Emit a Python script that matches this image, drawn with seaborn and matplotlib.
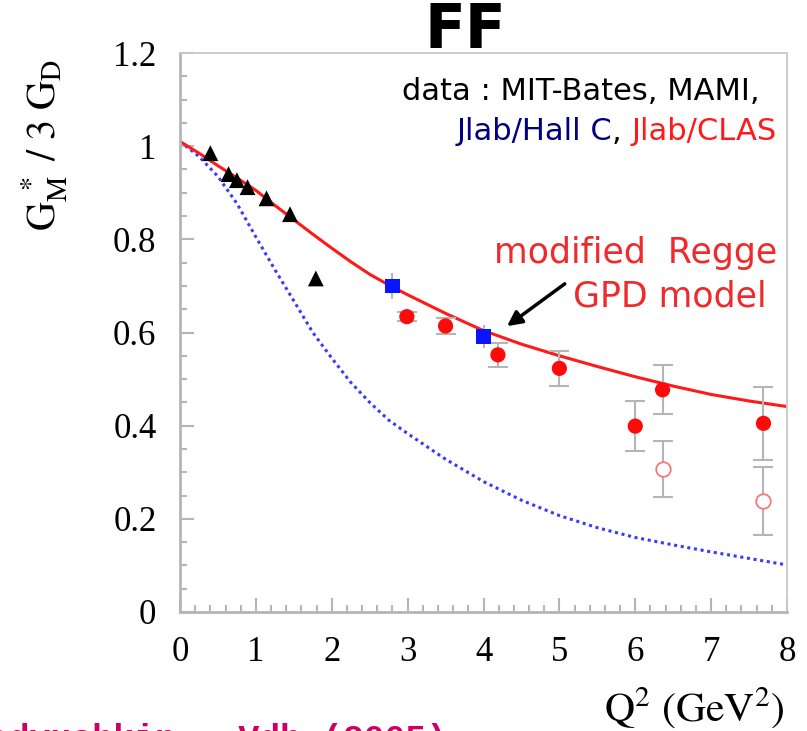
import numpy as np
import matplotlib
matplotlib.use("Agg")
import matplotlib.pyplot as plt
import seaborn as sns

# curves
q_curve = [0, 0.25, 0.5, 0.75, 1, 1.25, 1.5, 1.75, 2, 2.25, 2.5, 2.75, 3, 3.5, 4, 4.5, 5, 5.5, 6, 6.5, 7, 7.5, 8]
regge = [1.01, 0.985, 0.958, 0.932, 0.905, 0.873, 0.842, 0.811, 0.781, 0.752, 0.725, 0.702, 0.681, 0.641, 0.604, 0.575, 0.550, 0.527, 0.505, 0.485, 0.467, 0.453, 0.441]
dotted = [1.01, 0.978, 0.935, 0.877, 0.805, 0.735, 0.668, 0.600, 0.545, 0.493, 0.450, 0.412, 0.383, 0.328, 0.280, 0.240, 0.207, 0.181, 0.160, 0.144, 0.129, 0.115, 0.101]

# MIT-Bates, MAMI
q_bates = [0.40, 0.64, 0.75, 0.89, 1.14, 1.45, 1.79]
g_bates = [0.985, 0.940, 0.927, 0.912, 0.888, 0.854, 0.716]

# Jlab / Hall C
q_hallc = [2.80, 4.00]
g_hallc = [0.700, 0.591]
e_hallc = [0.028, 0.025]

# Jlab / CLAS
q_clas = [2.99, 3.50, 4.19, 5.00, 6.00, 6.36, 7.69]
g_clas = [0.634, 0.614, 0.552, 0.523, 0.399, 0.477, 0.405]
e_clas = [0.010, 0.017, 0.025, 0.037, 0.054, 0.053, 0.079]

q_clas_open = [6.36, 7.69]
g_clas_open = [0.307, 0.238]
e_clas_open = [0.061, 0.073]

x_ticks = [0, 1, 2, 3, 4, 5, 6, 7, 8]
y_ticks = [0, 0.2, 0.4, 0.6, 0.8, 1.0, 1.2]
y_ticklabels = ["0", "0.2", "0.4", "0.6", "0.8", "1", "1.2"]

sns.set_theme(style="white")
plt.rcParams["mathtext.fontset"] = "stix"
plt.rcParams["font.family"] = ["DejaVu Sans"]
plt.rcParams["text.color"] = "black"
plt.rcParams["xtick.labelcolor"] = "black"
plt.rcParams["ytick.labelcolor"] = "black"

W, H = 807, 731
fig = plt.figure(figsize=(W / 100, H / 100), dpi=100)
ax = fig.add_axes([180 / W, 1 - 612 / H, (787 - 180) / W, (612 - 53) / H])

grey = "#b5b5b5"
sns.lineplot(x=q_curve, y=dotted, ax=ax, color="#3a3aff", lw=2.2, linestyle=(0, (1, 1.2)))
sns.lineplot(x=q_curve, y=regge, ax=ax, color="#ff1a1a", lw=2.2)

ax.errorbar(q_hallc, g_hallc, yerr=e_hallc, fmt="none", ecolor=grey, elinewidth=1.5, capsize=0, zorder=2)
ax.errorbar(q_clas, g_clas, yerr=e_clas, fmt="none", ecolor=grey, elinewidth=1.5, capsize=7, capthick=1.5, zorder=2)
ax.errorbar(q_clas_open, g_clas_open, yerr=e_clas_open, fmt="none", ecolor=grey, elinewidth=1.5, capsize=7, capthick=1.5, zorder=2)

sns.scatterplot(x=q_bates, y=g_bates, ax=ax, marker="^", s=130, color="black", edgecolor="none", zorder=4)
sns.scatterplot(x=q_hallc, y=g_hallc, ax=ax, marker="s", s=110, color="#0a14ff", edgecolor="none", zorder=4)
sns.scatterplot(x=q_clas, y=g_clas, ax=ax, marker="o", s=120, color="#ff0a0a", edgecolor="none", zorder=4)
sns.scatterplot(x=q_clas_open, y=g_clas_open, ax=ax, marker="o", s=110, facecolor="white", edgecolor="#f47a7a", linewidth=1.3, zorder=4)

ax.set_xlim(0, 8)
ax.set_ylim(0, 1.2)
ax.set_xticks(x_ticks)
ax.set_xticklabels([str(t) for t in x_ticks])
ax.set_yticks(y_ticks)
ax.set_yticklabels(y_ticklabels)
ax.set_xticks(np.arange(0, 8.01, 0.2), minor=True)
ax.set_yticks(np.arange(0, 1.201, 0.05), minor=True)
ax.tick_params(which="both", direction="in", color=grey, width=1.5, top=False, right=False,
               bottom=True, left=True)
ax.tick_params(which="major", length=10, pad=17, labelsize=25, labelcolor="black")
ax.tick_params(which="minor", length=5)
for lab in ax.get_xticklabels() + ax.get_yticklabels():
    lab.set_family("Liberation Serif")
for s in ax.spines.values():
    s.set_color("#c8c8c8")
    s.set_linewidth(1.3)
ax.spines["left"].set_color(grey)
ax.spines["bottom"].set_color(grey)
ax.spines["left"].set_linewidth(2)
ax.spines["bottom"].set_linewidth(2)
ax.set_xlabel("")
ax.set_ylabel("")

# axis titles
fig.text(45 / W, 1 - 145 / H, r"$\mathrm{G_M^{\ *}\ /\ 3\ G_D}$", rotation=90,
         ha="center", va="center", fontsize=29, color="black")
fig.text(785 / W, 1 - 708 / H, r"$\mathrm{Q^2\ (GeV^2)}$", ha="right", va="center",
         fontsize=30, color="black")

# title and notes
fig.text(465 / W, 1 - 32 / H, "FF", ha="center", va="center", fontsize=43, fontweight="bold", color="black")
fig.text(760 / W, 1 - 92 / H, "data : MIT-Bates, MAMI,", ha="right", va="center", fontsize=22, color="black")

# second line, pieces placed one after the other, ending at x = 777 px
pieces = [("Jlab/Hall C", "#000080"), (", ", "black"), ("Jlab/CLAS", "#ff1a1a")]
fig.canvas.draw()
renderer = fig.canvas.get_renderer()
texts = []
for s, c in pieces:
    t = fig.text(0, 1 - 132 / H, s, ha="left", va="center", fontsize=22, color=c)
    texts.append(t)
widths = [t.get_window_extent(renderer).width for t in texts]
x = 777 - sum(widths)
for t, w in zip(texts, widths):
    t.set_x(x / W)
    x += w

fig.text(777 / W, 1 - 253 / H, "modified  Regge", ha="right", va="center", fontsize=25, color="#ee2a2a")
fig.text(767 / W, 1 - 297 / H, "GPD model", ha="right", va="center", fontsize=25, color="#ee2a2a")

ax.annotate("", xy=(4.28, 0.610), xytext=(5.10, 0.708),
            arrowprops=dict(arrowstyle="-|>", color="black", lw=2.5, mutation_scale=22))

# cut-off reference at the bottom edge
fig.text(447 / W, 1 - 723 / H, "Radyushkin , Vdh (2005)", ha="right", va="top",
         fontsize=25, fontweight="bold", family="Liberation Mono", color="#cc0066")

fig.savefig("out.png", dpi=100)
